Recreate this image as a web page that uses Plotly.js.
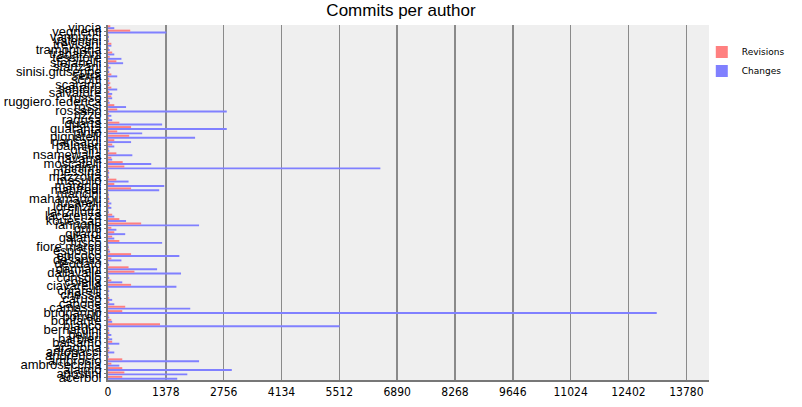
<!DOCTYPE html>
<html>
<head>
<meta charset="utf-8">
<script src="https://cdn.plot.ly/plotly-3.0.1.min.js"></script>
<style>html,body{margin:0;padding:0;background:#fff;}#chart{width:802px;height:407px;}</style>
</head>
<body>
<div id="chart"></div>
<script>
// Authors, bottom (first) to top (last)
var authors = ["acerbol","agostini","alaimo","ambrosecchia","ambrosio","andreucci","antonacci","aragona","balsamo","barbieri","bellini","bernardini","bianco","bonfante","borrelli","buonanno","camassa","capone","caruso","chessa","chiarelli","ciavarella","colella","consolo","dallavalle","damiani","deodato","desantis","epicoco","esposito","fiore.marco","fusco","galante","girardi","grillo","iannone","kouessan","lacerenza","lanzillotta","lorenzini","lucarelli","mahamadou","mancini","manfredi","marangi","masullo","mazzotta","messina","mininni","moscatelli","navarra","nsamewalla","orsini","palmieri","pansardi","pignatelli","pinto","quaranta","quarta","ragusa","rizzo","rossano","rossi","ruggiero.federica","russo","salvatore","santoro","scarano","scotti","serra","sinisi.giuseppe","stanzani","stefanelli","tessitore","trabalzini","tramontana","trevisani","valentini","vannucci","vegnenti","vincia"];

var revisions = [340,390,340,80,340,10,30,15,100,30,30,20,1240,80,15,340,410,30,30,10,15,550,80,15,630,490,10,80,550,30,10,270,100,150,80,790,270,100,10,30,30,20,10,550,150,200,15,20,390,350,80,200,15,100,150,505,220,550,270,30,30,220,150,20,80,30,80,55,30,80,15,20,200,40,100,20,80,15,10,530,55];

var changes = [1650,1890,2950,270,2170,20,150,30,270,100,80,30,5520,100,30,13075,1960,150,100,20,30,1630,340,30,1740,1170,25,320,1700,50,20,1290,150,410,200,2170,430,150,20,80,80,30,20,1220,1340,490,25,30,6490,1030,100,580,30,150,550,2075,815,2830,1290,100,80,2830,430,40,100,100,220,30,30,220,30,60,360,320,150,40,80,25,20,1390,150];

var xTicks = [0,1378,2756,4134,5512,6890,8268,9646,11024,12402,13780];

var traces = [
  {type:'bar', orientation:'h', name:'Changes', y:authors, x:changes,
   marker:{color:'#8080ff', line:{width:0}}},
  {type:'bar', orientation:'h', name:'Revisions', y:authors, x:revisions,
   marker:{color:'#ff8080', line:{width:0}}}
];

var layout = {
  width:802, height:407,
  margin:{l:108, r:91, t:25, b:27, pad:0},
  paper_bgcolor:'#ffffff',
  plot_bgcolor:'#efefef',
  barmode:'group', bargap:0.12, bargroupgap:0,
  title:{text:'Commits per author', x:0.5, xanchor:'center', y:0.975, yanchor:'middle',
         font:{family:'Liberation Sans, Arial, sans-serif', size:17, color:'#000'}},
  xaxis:{range:[0,14320], tickmode:'array', tickvals:xTicks, ticktext:xTicks.map(String),
         showgrid:true, gridcolor:'#8a8a8a', gridwidth:1.5, zeroline:false,
         showline:true, linecolor:'#777', linewidth:2, ticks:'',
         tickfont:{family:'DejaVu Sans Condensed, Liberation Sans Narrow, sans-serif', size:12, color:'#000'}},
  yaxis:{type:'category', tickmode:'linear', dtick:1, showgrid:false, zeroline:false,
         showline:true, linecolor:'#777', linewidth:2, ticks:'outside', ticklen:2, tickcolor:'#777',
         range:[-0.5, authors.length-0.5], automargin:false,
         tickfont:{family:'Liberation Sans, Arial, sans-serif', size:13, color:'#000'}},
  legend:{x:0.988, y:0.965, xanchor:'left', yanchor:'top', traceorder:'reversed',
          bgcolor:'rgba(0,0,0,0)', borderwidth:0,
          font:{family:'DejaVu Sans, Verdana, sans-serif', size:9, color:'#000'}},
  showlegend:true
};

Plotly.newPlot('chart', traces, layout, {displayModeBar:false, staticPlot:true});
</script>
</body>
</html>
